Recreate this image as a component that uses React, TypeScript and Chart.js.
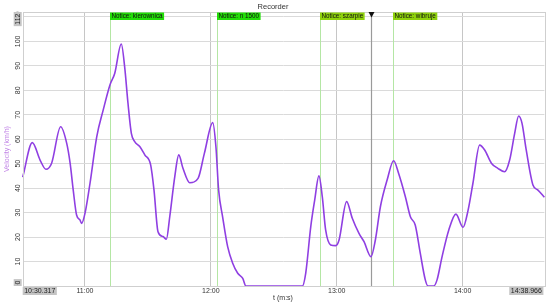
import React, { useEffect, useRef } from "react";
import { Chart, registerables } from "chart.js";

Chart.register(...registerables);

// ---- data (time in seconds, velocity in km/h) ----
const tSeconds = [
  630.317, 634.9, 638.6, 641.4, 644.1, 648.4, 651.3, 652.9, 654.4, 656.0, 657.6, 658.4,
  660.0, 662.4, 665.6, 668.7, 671.9, 674.2, 677.3, 678.9, 680.5, 682.1, 683.7, 686.1,
  688.5, 691.3, 692.9, 694.8, 697.2, 698.8, 700.4, 702.8, 704.7, 706.7, 709.9, 713.9,
  716.9, 720.9, 722.4, 723.7, 725.6, 728.0, 730.4, 732.8, 735.2, 736.7, 763.6, 765.2,
  767.6, 769.5, 771.5, 773.1, 774.7, 777.1, 779.5, 781.1, 784.7, 787.4, 790.6, 793.0,
  796.3, 798.4, 800.8, 804.0, 807.1, 809.5, 812.7, 815.1, 817.4, 819.8, 822.2, 823.5,
  826.2, 827.8, 830.2, 833.4, 836.8, 840.2, 842.6, 844.9, 848.1, 850.5, 853.7, 856.8,
  860.0, 862.4, 864.8, 866.7, 868.3, 870.3, 873.5, 875.9, 878.966,
];
const velocity = [
  44.5, 58.6, 51.5, 47.7, 50.2, 65.1, 58.3, 50.3, 39.2, 29.0, 27.0, 25.6,
  29.7, 42.0, 61.0, 72.0, 82.2, 87.0, 98.9, 89.7, 74.7, 62.4, 59.0, 57.0,
  53.6, 49.5, 39.2, 22.2, 20.2, 19.1, 28.3, 44.7, 53.6, 48.1, 42.2, 44.0,
  54.2, 66.8, 57.0, 39.2, 28.3, 16.1, 9.3, 5.2, 3.1, 0, 0, 5.2,
  24.2, 35.2, 45.0, 36.5, 22.9, 16.8, 16.5, 18.8, 34.5, 27.7, 21.5, 18.1,
  12.0, 18.8, 32.4, 43.3, 51.2, 46.0, 36.5, 28.3, 24.9, 13.4, 2.5, 0,
  0, 2.5, 12.0, 22.9, 29.4, 24.0, 31.0, 42.0, 57.6, 55.6, 50.2, 48.1,
  46.7, 51.5, 62.4, 69.5, 66.5, 55.6, 41.3, 39.2, 36.3,
];

const xTickValues = [660, 720, 780, 840];
const yTickValues = [10, 20, 30, 40, 50, 60, 70, 80, 90, 100, 110];
const tStart = 630.317;
const tEnd = 878.966;
const vMin = 0;
const vMax = 112;

const noticeTimes = [671.9, 722.9, 772.0, 806.8];
const noticeTexts = ["Notice: kierownica", "Notice: n 1500", "Notice: szarpie", "Notice: wibruje"];
const cursorTime = 796.3;

const titleText = "Recorder";
const xTitle = "t (m:s)";
const yTitle = "Velocity (km/h)";

const FONT = "'Liberation Sans', Arial, sans-serif";

function fmtMin(v: number) {
  const m = Math.floor(v / 60);
  const s = Math.round(v - m * 60);
  return `${m}:${String(s).padStart(2, "0")}`;
}
function fmtMs(v: number) {
  const m = Math.floor(v / 60);
  const s = v - m * 60;
  return `${m}:${s.toFixed(3).padStart(6, "0")}`;
}

const overlay = {
  id: "overlay",
  beforeDatasetsDraw(chart: any) {
    const { ctx, chartArea: a, scales } = chart;
    const xs = scales.x;
    ctx.save();
    // notice lines
    ctx.strokeStyle = "#b4e6a4";
    ctx.lineWidth = 1;
    noticeTimes.forEach((t) => {
      const x = Math.round(xs.getPixelForValue(t)) + 0.5;
      ctx.beginPath();
      ctx.moveTo(x, a.top);
      ctx.lineTo(x, a.bottom);
      ctx.stroke();
    });
    // cursor line
    const cx = Math.round(xs.getPixelForValue(cursorTime)) + 0.5;
    ctx.strokeStyle = "#9a9a9a";
    ctx.lineWidth = 1.2;
    ctx.beginPath();
    ctx.moveTo(cx, a.top);
    ctx.lineTo(cx, a.bottom);
    ctx.stroke();
    ctx.restore();
  },
  afterDraw(chart: any) {
    const { ctx, chartArea: a, scales } = chart;
    const xs = scales.x;
    const ys = scales.y;
    ctx.save();
    // plot border
    ctx.strokeStyle = "#cfcfcf";
    ctx.lineWidth = 1;
    ctx.strokeRect(Math.round(a.left) + 0.5, Math.round(a.top) + 0.5, Math.round(a.right - a.left), Math.round(a.bottom - a.top));

    // title
    ctx.fillStyle = "#333";
    ctx.font = `7.5px ${FONT}`;
    ctx.textAlign = "center";
    ctx.textBaseline = "middle";
    ctx.fillText(titleText, 273, 7);

    // x tick labels
    ctx.font = `7px ${FONT}`;
    ctx.fillStyle = "#333";
    ctx.textBaseline = "middle";
    xTickValues.forEach((v) => {
      ctx.fillText(fmtMin(v), xs.getPixelForValue(v), a.bottom + 5);
    });
    // x title
    ctx.fillText(xTitle, 283, 298);

    // end boxes
    const drawBox = (txt: string, x0: number, alignRight: boolean) => {
      const w = ctx.measureText(txt).width + 3;
      const bx = alignRight ? x0 - w : x0;
      ctx.fillStyle = "#c4c4c4";
      ctx.fillRect(bx, a.bottom + 1, w, 8);
      ctx.fillStyle = "#222";
      ctx.textAlign = "left";
      ctx.fillText(txt, bx + 1.5, a.bottom + 5);
    };
    drawBox(fmtMs(tStart), a.left, false);
    drawBox(fmtMs(tEnd), a.right - 1, true);

    // y tick labels (rotated)
    ctx.textAlign = "center";
    ctx.textBaseline = "middle";
    yTickValues.forEach((v) => {
      ctx.save();
      ctx.translate(18, ys.getPixelForValue(v));
      ctx.rotate(-Math.PI / 2);
      ctx.fillStyle = "#333";
      ctx.fillText(String(v), 0, 0);
      ctx.restore();
    });
    const drawYBox = (txt: string, yEdge: number, atTop: boolean) => {
      const w = ctx.measureText(txt).width + 3;
      const yc = atTop ? yEdge + w / 2 : yEdge - w / 2;
      ctx.fillStyle = "#c4c4c4";
      ctx.fillRect(a.left - 9, yc - w / 2, 8, w);
      ctx.save();
      ctx.translate(a.left - 5, yc);
      ctx.rotate(-Math.PI / 2);
      ctx.fillStyle = "#222";
      ctx.fillText(txt, 0, 0);
      ctx.restore();
    };
    drawYBox(String(vMin), a.bottom, false);
    drawYBox(String(vMax), a.top, true);

    // y title
    ctx.save();
    ctx.translate(7, (a.top + a.bottom) / 2);
    ctx.rotate(-Math.PI / 2);
    ctx.fillStyle = "#c184e6";
    ctx.font = `7px ${FONT}`;
    ctx.fillText(yTitle, 0, 0);
    ctx.restore();

    // notice labels
    ctx.font = `6.3px ${FONT}`;
    ctx.textAlign = "left";
    noticeTexts.forEach((txt, i) => {
      const x = Math.round(xs.getPixelForValue(noticeTimes[i]));
      const w = ctx.measureText(txt).width + 3;
      ctx.fillStyle = i < 2 ? "#22dd08" : "#8ed10c";
      ctx.fillRect(x, a.top + 0.5, w, 7.5);
      ctx.fillStyle = "#111";
      ctx.fillText(txt, x + 1.5, a.top + 4.3);
    });

    // cursor triangle
    const cx = Math.round(xs.getPixelForValue(cursorTime)) + 0.5;
    ctx.fillStyle = "#111";
    ctx.beginPath();
    ctx.moveTo(cx - 3, a.top);
    ctx.lineTo(cx + 3, a.top);
    ctx.lineTo(cx, a.top + 5.5);
    ctx.closePath();
    ctx.fill();
    ctx.restore();
  },
};

export default function App() {
  const ref = useRef<HTMLCanvasElement | null>(null);
  useEffect(() => {
    document.body.style.margin = "0";
    const canvas = ref.current;
    if (!canvas) return;
    const chart = new Chart(canvas, {
      type: "line",
      data: {
        datasets: [
          {
            data: tSeconds.map((t, i) => ({ x: t, y: velocity[i] })),
            borderColor: "#8f3fe2",
            borderWidth: 1.6,
            pointRadius: 0,
            cubicInterpolationMode: "monotone",
            fill: false,
            clip: 3,
          } as any,
        ],
      },
      options: {
        responsive: false,
        animation: false,
        layout: { padding: { left: 22.7, right: 5.6, top: 12, bottom: 19 } },
        plugins: { legend: { display: false }, tooltip: { enabled: false }, title: { display: false } },
        scales: {
          x: {
            type: "linear",
            min: tStart,
            max: tEnd,
            afterBuildTicks: (s: any) => {
              s.ticks = xTickValues.map((v) => ({ value: v }));
            },
            ticks: { display: false },
            grid: { color: "#c6c6c6", drawTicks: false, lineWidth: 1 },
            border: { display: false },
          },
          y: {
            type: "linear",
            min: vMin,
            max: vMax,
            afterBuildTicks: (s: any) => {
              s.ticks = yTickValues.map((v) => ({ value: v }));
            },
            ticks: { display: false },
            grid: { color: "#dadada", drawTicks: false, lineWidth: 1 },
            border: { display: false },
          },
        },
      },
      plugins: [overlay],
    });
    return () => chart.destroy();
  }, []);
  return (
    <div style={{ width: 550, height: 305, background: "#fff" }}>
      <canvas ref={ref} width={550} height={305} style={{ display: "block" }} />
    </div>
  );
}
